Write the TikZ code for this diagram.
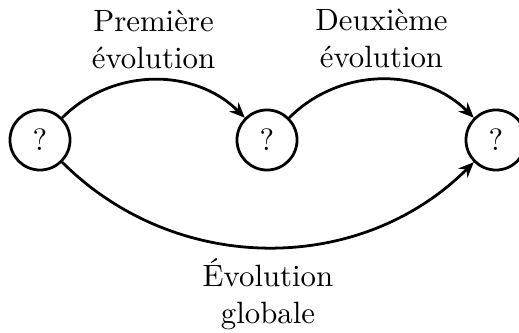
\documentclass[tikz,border=0pt]{standalone}
\usetikzlibrary{arrows.meta}
\begin{document}
\begin{tikzpicture}[x=0.3247pt,y=0.3247pt,
  qnode/.style={circle,draw,line width=0.9pt,minimum size=19.5pt,inner sep=0pt},
  conn/.style={line width=0.9pt,-{Stealth[length=5pt,width=4.2pt]}},
  lab/.style={align=center}]
\useasboundingbox (0,0) rectangle (519,333);
\node[qnode] (a) at (40,193) {?};
\node[qnode] (b) at (267,193) {?};
\node[qnode] (c) at (496,193) {?};
\draw[conn] (a) to[bend left=45] node[above,lab] {Première\\évolution} (b);
\draw[conn] (b) to[bend left=45] node[above,lab] {Deuxième\\évolution} (c);
\draw[conn] (a) to[bend right=45] node[below,lab] {Évolution\\globale} (c);
\end{tikzpicture}
\end{document}
